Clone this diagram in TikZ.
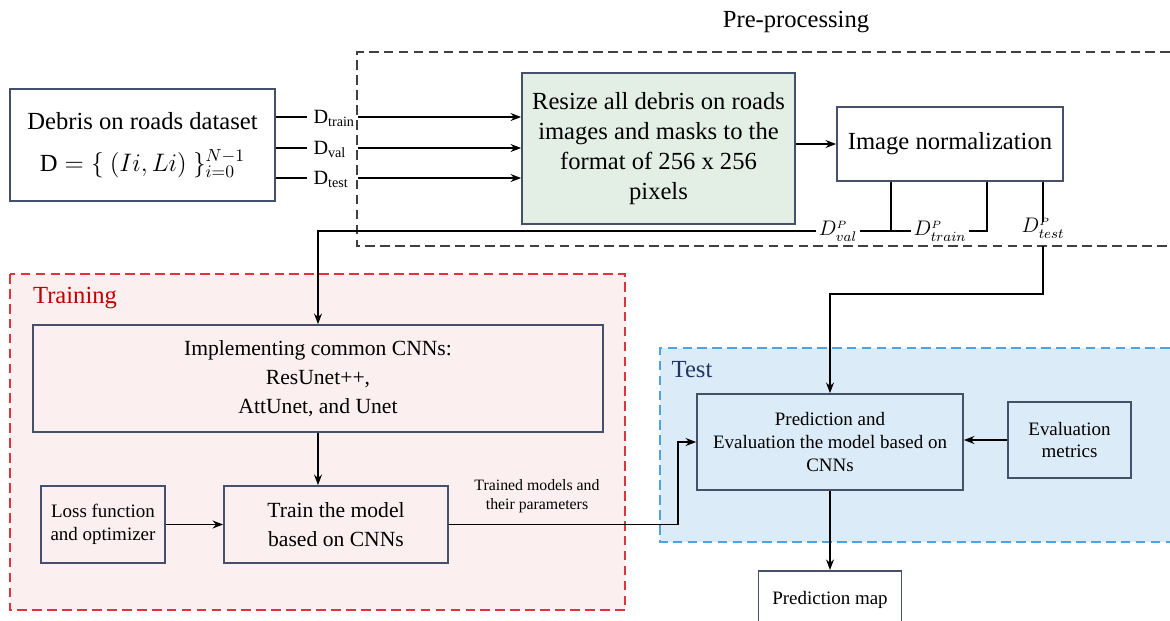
\documentclass[tikz,border=0pt]{standalone}
\usepackage{fontspec}
\setmainfont{Liberation Serif}
\usetikzlibrary{positioning}
\usetikzlibrary{arrows.meta}

\definecolor{boxline}{HTML}{45506B}
\definecolor{greenfill}{HTML}{E3EFE5}
\definecolor{trainfill}{HTML}{FCEFEF}
\definecolor{trainred}{HTML}{E0343C}
\definecolor{traintext}{HTML}{C00000}
\definecolor{testfill}{HTML}{DCEBF8}
\definecolor{testblue}{HTML}{4FA3E0}
\definecolor{testtext}{HTML}{1F3864}

\tikzset{
    box/.style={draw=boxline, line width=1pt, align=center, inner sep=2pt},
    big/.style={font=\fontsize{14}{17}\selectfont},
    mid/.style={font=\fontsize{12.3}{16.5}\selectfont},
    little/.style={font=\fontsize{10.8}{13}\selectfont},
    tiny/.style={font=\fontsize{9}{10.5}\selectfont, align=center},
    split/.style={font=\fontsize{11.5}{13}\selectfont},
    region/.style={dashed, dash pattern=on 5.5pt off 3pt, line width=1pt},
}

\begin{document}
\begin{tikzpicture}[x=0.02cm, y=-0.02cm, >={Stealth[length=6pt,width=4.5pt]}, line width=0.9pt]
    \useasboundingbox (0,0) rectangle (1170,620);

    % regions
    \fill[trainfill] (10,274) rectangle (625,610);
    \draw[region, trainred] (10,274) rectangle (625,610);
    \fill[testfill] (660,348) rectangle (1185,542);
    \draw[region, testblue] (1185,348) -- (660,348) -- (660,542) -- (1185,542);
    \draw[region, black!75] (1185,52) -- (357,52) -- (357,246) -- (1185,246);
    \coordinate (preleft) at (358,52);

    \node[big] (prelab) at (796,22) {Pre-processing};
    \node[big, text=traintext] (trainlab) at (75,298) {Training};
    \node[big, text=testtext] (testlab) at (692,370) {Test};

    % boxes
    \node[box, big, minimum width=5.3cm, minimum height=2.24cm] (data) at (142.5,145)
        {Debris on roads dataset\\[7pt] $\mathrm{D} = \{\ (Ii, Li)\ \}_{i=0}^{N-1}$};
    \node[box, big, fill=greenfill, minimum width=5.46cm, minimum height=3.02cm] (resize) at (658.5,148.5)
        {Resize all debris on roads\\images and masks to the\\format of 256 x 256\\pixels};
    \node[box, big, minimum width=4.52cm, minimum height=1.48cm] (norm) at (950,144) {Image normalization};

    \node[box, mid, minimum width=11.4cm, minimum height=2.14cm] (impl) at (318,378.5)
        {Implementing common CNNs:\\ResUnet++,\\AttUnet, and Unet};
    \node[box, little, minimum width=2.48cm, minimum height=1.54cm] (loss) at (103,524.5)
        {Loss function\\and optimizer};
    \node[box, mid, minimum width=4.48cm, minimum height=1.54cm] (train) at (336,524.5)
        {Train the model\\based on CNNs};

    \node[box, little, minimum width=5.32cm, minimum height=1.92cm] (pred) at (830,442)
        {Prediction and\\Evaluation the model based on\\CNNs};
    \node[box, little, minimum width=2.46cm, minimum height=1.52cm] (eval) at (1069.5,440)
        {Evaluation\\metrics};
    \node[box, little, minimum width=2.86cm, minimum height=1.4cm, anchor=north] (map) at (830,570)
        {\raisebox{0.3cm}{Prediction map}};

    % dataset splits
    \foreach \nm/\sub/\yy in {dtrain/train/117, dval/val/148, dtest/test/178} {
        \node[split, anchor=west, text depth=0pt, inner sep=1pt] (\nm) at (311,\yy) {D\textsubscript{\sub}};
        \draw (\nm.west -| data.east) -- ([xshift=-2pt]\nm.west);
        \draw[->] (\nm -| preleft) -- (\nm -| resize.west);
    }

    \draw[->] (resize.east |- norm.west) -- (norm.west);

    % normalized splits
    \node[split, inner sep=1pt] (valP) at (838,231) {$D^{\scriptscriptstyle P}_{val}$};
    \node[split, inner sep=1pt] (trainP) at (940,231) {$D^{\scriptscriptstyle P}_{train}$};
    \node[split, inner sep=1pt] (testP) at (1043,228) {$D^{\scriptscriptstyle P}_{test}$};

    \draw ([xshift=-1.18cm]norm.south) |- (valP.east);
    \draw (valP.east) -- (trainP.west);
    \draw ([xshift=0.74cm]norm.south) |- (trainP.east);
    \draw (testP.north |- norm.south) -- ([yshift=-4pt]testP.north);
    \draw[->] (valP.west) -| (impl.north);
    \draw[->] ([yshift=-3pt]testP.south) -- ++(0,48) -| (pred.north);

    % training
    \draw[->] (impl.south) -- (impl.south |- train.north);
    \draw[->] (loss.east) -- (train.west);
    \draw[->] (train.east) -- ++(229,0) |- (pred.west);
    \node[tiny] (trlab) at (537,496) {Trained models and\\their parameters};

    % test
    \draw[->] (eval.west) -- (eval.west -| pred.east);
    \draw[->] (pred.south) -- (map.north);
\end{tikzpicture}
\end{document}
